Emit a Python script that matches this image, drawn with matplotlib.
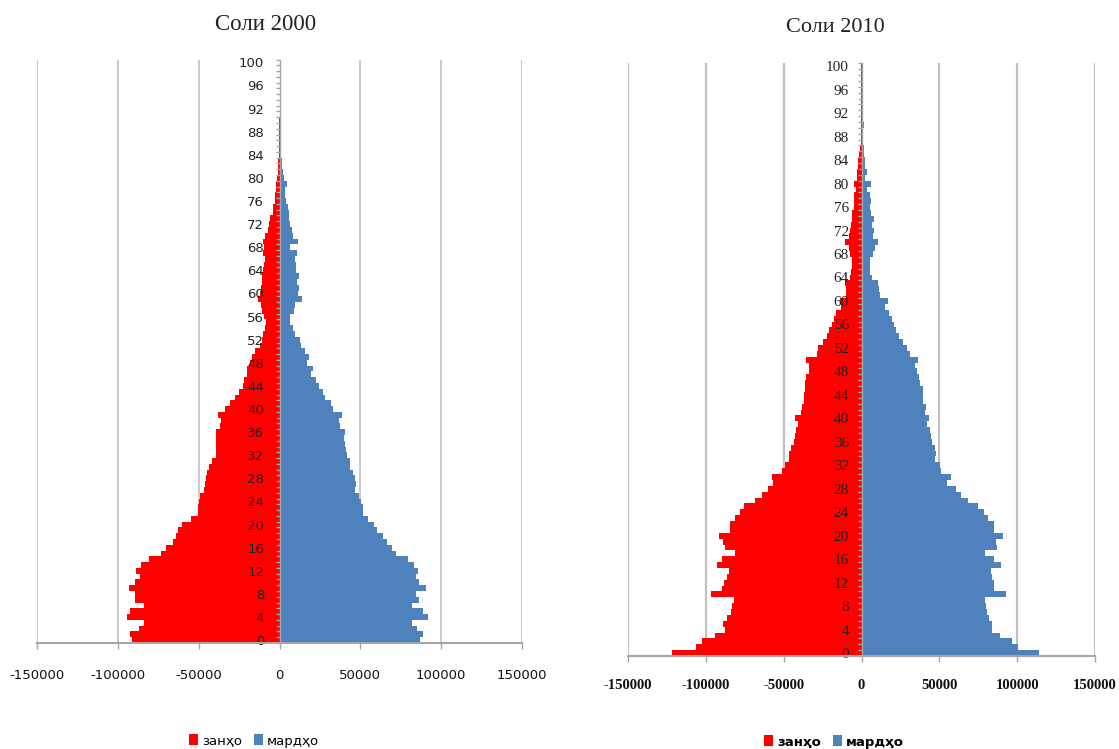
import numpy as np
import matplotlib
matplotlib.use("Agg")
import matplotlib.pyplot as plt
from matplotlib.patches import Patch

plt.rcParams['font.family'] = ['DejaVu Sans']
plt.rcParams['axes.unicode_minus'] = False

# ---------------- data ----------------
ages = list(range(101))
age_tick_labels = [str(a) for a in ages if a % 4 == 0]
x_ticks = [-150000, -100000, -50000, 0, 50000, 100000, 150000]
x_tick_labels = ["-150000", "-100000", "-50000", "0", "50000", "100000", "150000"]

titles = ["Соли 2000", "Соли 2010"]
series_names = ["занҳо", "мардҳо"]

women_2000 = [
    91300, 92300, 86900, 83800, 94300, 92700, 83800, 89600, 89200, 93300,
    89200, 86100, 88600, 85700, 81000, 73300, 70000, 65900, 64300, 62800,
    60200, 54600, 50700, 50300, 49900, 49000, 46600, 46100, 45300, 44900,
    43700, 42000, 39100, 39100, 39500, 39100, 39100, 37100, 36300, 38300,
    33600, 30900, 27800, 25300, 22700, 21800, 20200, 19800, 18100, 17100,
    15000, 11900, 10900, 9900, 8900, 8200, 9500, 10900, 11500, 13600,
    11900, 11500, 10900, 10900, 10300, 9500, 8900, 9900, 9500, 9900,
    8700, 7400, 6200, 5800, 4300, 4300, 2700, 2700, 2300, 2300,
    1600, 1200, 800, 800, 600, 400, 400, 200, 200, 200,
    200, 0, 0, 0, 0, 0, 0, 0, 0, 0, 0]
men_2000 = [
    86900, 88600, 84900, 81800, 91700, 89000, 81800, 86500, 84500, 90600,
    86500, 84500, 85900, 83400, 79300, 72100, 69400, 66300, 63900, 60200,
    58700, 54600, 51900, 51900, 50300, 49400, 46800, 47200, 46400, 45700,
    43700, 43300, 41600, 41200, 40600, 40200, 40800, 37500, 37100, 38900,
    33400, 31900, 28200, 26600, 24700, 22500, 19600, 20600, 16900, 18500,
    15500, 13400, 12800, 9300, 8200, 6600, 6200, 8700, 9300, 14000,
    11700, 12200, 10700, 12200, 10300, 10100, 9300, 10700, 6600, 11500,
    8200, 7600, 6600, 5600, 5600, 5100, 4100, 3500, 3500, 4900,
    2500, 1900, 1400, 1400, 1000, 800, 800, 600, 600, 800,
    0, 0, 0, 0, 0, 0, 0, 0, 0, 0, 0]
women_2010 = [
    121500, 106000, 102600, 93800, 88000, 89100, 86500, 83700, 83300, 82200,
    96600, 89300, 88600, 86500, 85400, 92900, 89300, 81500, 87600, 89100,
    91800, 84300, 84300, 81500, 77900, 75300, 68700, 64000, 60100, 57100,
    57500, 51100, 49400, 46800, 46400, 45300, 43600, 42800, 42100, 40600,
    42800, 38900, 38300, 36800, 36800, 36400, 36400, 35800, 33600, 33600,
    35800, 28900, 27700, 24700, 22300, 20900, 18700, 17700, 16200, 13400,
    13800, 10200, 10200, 10900, 7400, 7000, 6400, 6000, 7400, 8300,
    10500, 8300, 7700, 6800, 6200, 5800, 4700, 4500, 4700, 3400,
    4500, 3000, 3000, 2400, 2400, 1300, 900, 600, 600, 400,
    300, 300, 300, 300, 300, 300, 300, 300, 300, 300, 300]
men_2010 = [
    113800, 100400, 96900, 88900, 84100, 84100, 82000, 80900, 79800, 79400,
    92700, 85200, 84800, 83700, 83000, 89500, 85200, 79400, 86900, 86700,
    91000, 84800, 85200, 81500, 78800, 75100, 68700, 63700, 60500, 55200,
    57300, 51300, 50200, 47200, 47600, 47200, 45500, 44500, 44000, 41900,
    43400, 40900, 41500, 39400, 39200, 39200, 37700, 37000, 35500, 34500,
    36600, 31300, 29200, 26400, 23800, 22100, 20600, 19600, 17900, 15300,
    16800, 12100, 11100, 10400, 6800, 5700, 5300, 5300, 7500, 8500,
    10300, 7300, 8100, 6600, 8100, 6000, 5600, 6000, 5600, 3400,
    6000, 2400, 3400, 2400, 2400, 1900, 1900, 1100, 900, 900,
    1900, 0, 0, 0, 0, 0, 0, 0, 0, 0, 0]

RED = "#FF0000"
BLUE = "#4F81BD"
GRID = "#C0C0C0"
AXC = "#A6A6A6"

W, H = 1119, 749
fig = plt.figure(figsize=(W / 100, H / 100), dpi=100)
fig.patch.set_facecolor("white")


def px_rect(x0, y_top, x1, y_bot):
    return [x0 / W, 1 - y_bot / H, (x1 - x0) / W, (y_bot - y_top) / H]


def pyramid(rect, women, men, tick_font, xfont, ypad, xpad, grid_lw):
    ax = fig.add_axes(rect)
    ax.barh(ages, -np.array(women), height=1.0, color=RED, linewidth=0, zorder=1)
    ax.barh(ages, np.array(men), height=1.0, color=BLUE, linewidth=0, zorder=1)
    ax.set_xlim(x_ticks[0], x_ticks[-1])
    ax.set_ylim(-0.5, 100.5)
    for xv in x_ticks:
        if xv != 0:
            ax.axvline(xv, color=GRID, lw=grid_lw, zorder=0)
    for s in ["top", "right"]:
        ax.spines[s].set_visible(False)
    ax.spines["left"].set_position(("data", 0))
    ax.spines["left"].set_color(AXC)
    ax.spines["bottom"].set_color(AXC)
    ax.spines["left"].set_linewidth(1.0)
    ax.spines["bottom"].set_linewidth(1.5)
    ax.set_yticks([a for a in ages if a % 4 == 0])
    ax.set_yticklabels(age_tick_labels, **tick_font)
    ax.set_yticks(np.arange(-0.5, 101, 1), minor=True)
    ax.tick_params(axis="y", which="major", length=0, pad=ypad, colors="#222222")
    ax.tick_params(axis="y", which="minor", length=3, width=1, direction="out", color=AXC)
    ax.set_xticks(x_ticks)
    ax.set_xticklabels(x_tick_labels, **xfont)
    ax.tick_params(axis="x", which="major", length=4.5, width=1, color=AXC, pad=xpad,
                   labelcolor="#111111")
    ax.set_facecolor("white")
    return ax


ax1 = pyramid(px_rect(37, 59.5, 522, 643), women_2000, men_2000,
              dict(fontsize=9.5, family="DejaVu Sans"),
              dict(fontsize=9.5, family="DejaVu Sans"), 11, 14, 1.2)
ax2 = pyramid(px_rect(628, 63.3, 1095, 656), women_2010, men_2010,
              dict(fontsize=11, family="Liberation Serif"),
              dict(fontsize=10.5, family="Liberation Serif", fontweight="bold"), 9, 12, 1.6)

fig.text(266 / W, 1 - 25 / H, titles[0], ha="center", va="center",
         fontsize=16.5, family="Liberation Serif", color="#222222")
fig.text(835 / W, 1 - 28 / H, titles[1], ha="center", va="center",
         fontsize=16, family="Liberation Serif", color="#222222")

handles = [Patch(facecolor=RED, edgecolor="none"), Patch(facecolor=BLUE, edgecolor="none")]
fig.legend(handles, series_names, loc="center", bbox_to_anchor=(254 / W, 1 - 741 / H),
           ncol=2, frameon=False, handlelength=0.7, handleheight=0.9,
           handletextpad=0.3, columnspacing=0.9, prop=dict(family="DejaVu Sans", size=9.5))
fig.legend(handles, series_names, loc="center", bbox_to_anchor=(834 / W, 1 - 742 / H),
           ncol=2, frameon=False, handlelength=0.7, handleheight=0.9,
           handletextpad=0.3, columnspacing=0.9,
           prop=dict(family="DejaVu Sans", size=9.5, weight="bold"))

fig.savefig("out.png", dpi=100, facecolor="white")
